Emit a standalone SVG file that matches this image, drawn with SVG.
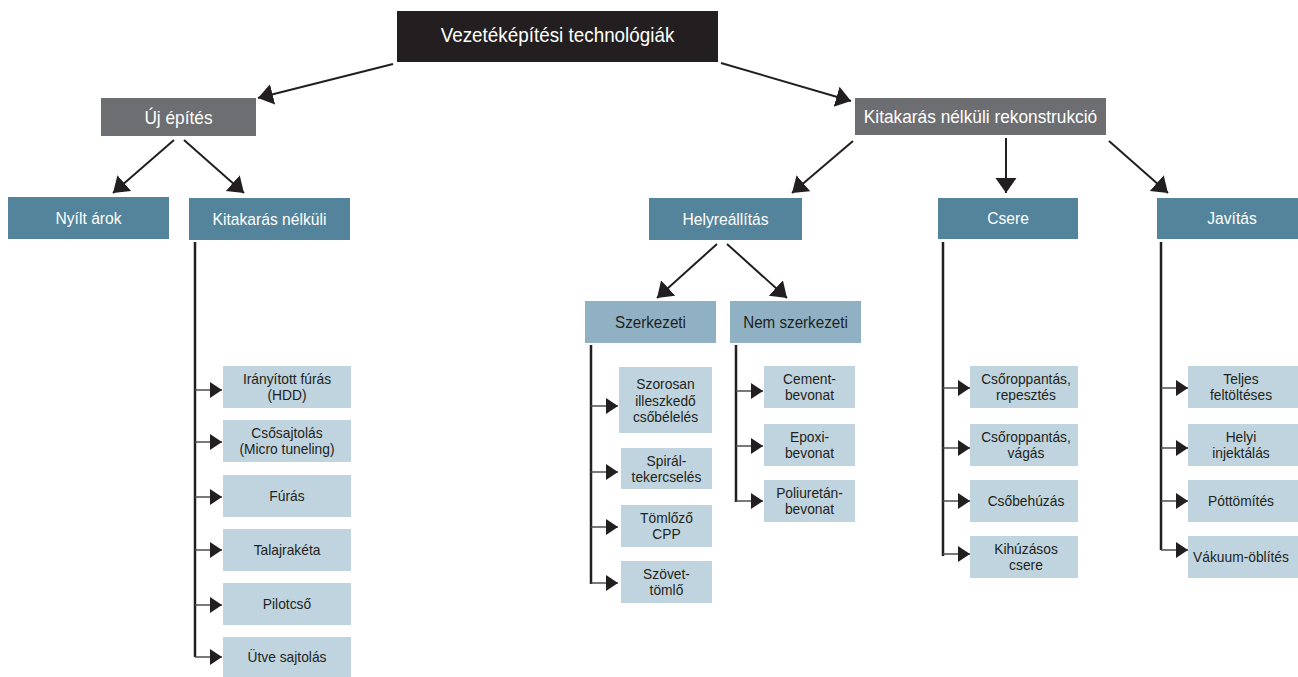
<svg xmlns="http://www.w3.org/2000/svg" width="1298" height="677" viewBox="0 0 1298 677">
<style>
text{font-family:"Liberation Sans",Arial,sans-serif;text-anchor:middle;transform-box:fill-box;transform-origin:center;transform:scaleX(0.92)}
.top{fill:#231f20}.gray{fill:#6d6e71}.teal{fill:#53849b}.hdr{fill:#8fb1c3}.leaf{fill:#bfd4de}
.tt{fill:#fff;font-size:20.5px}.tg{fill:#fff;font-size:18.8px}.tw{fill:#fff;font-size:17px}.td{fill:#231f20;font-size:16.5px}.tl{fill:#231f20;font-size:15px}
.arr{stroke:#231f20;stroke-width:2;fill:none;marker-end:url(#big)}
.vl{stroke:#231f20;stroke-width:2.5;fill:none}
.tk{stroke:#4d4d4f;stroke-width:1.5;fill:none;marker-end:url(#sm)}
</style>
<defs>
<marker id="big" markerUnits="userSpaceOnUse" markerWidth="16" markerHeight="22" refX="15" refY="10.5" orient="auto"><path d="M0,0 L15,10.5 L0,21 z" fill="#231f20"/></marker>
<marker id="sm" markerUnits="userSpaceOnUse" markerWidth="13" markerHeight="17" refX="12" refY="8" orient="auto"><path d="M0,0 L12,8 L0,16 z" fill="#231f20"/></marker>
</defs>
<rect width="1298" height="677" fill="#fff"/>
<g id="connectors">
<path class="arr" d="M393,64 L258,98"/>
<path class="arr" d="M721,63 L851,101"/>
<path class="arr" d="M174,140 L113,193"/>
<path class="arr" d="M184,140 L244,193"/>
<path class="arr" d="M853,141 L792,193"/>
<path class="arr" d="M1006,138 L1006,193"/>
<path class="arr" d="M1109,141 L1168,193"/>
<path class="arr" d="M717,244 L657,298"/>
<path class="arr" d="M727,244 L787,298"/>
<path class="vl" d="M195,242 V657"/>
<path class="tk" d="M195,390 H222"/><path class="tk" d="M195,442 H222"/><path class="tk" d="M195,497 H222"/><path class="tk" d="M195,550 H222"/><path class="tk" d="M195,605 H222"/><path class="tk" d="M195,657 H222"/>
<path class="vl" d="M591,345 V584"/>
<path class="tk" d="M591,406 H618"/><path class="tk" d="M591,472 H618"/><path class="tk" d="M591,527 H618"/><path class="tk" d="M591,583 H618"/>
<path class="vl" d="M736,345 V502"/>
<path class="tk" d="M736,391 H763"/><path class="tk" d="M736,446 H763"/><path class="tk" d="M736,501 H763"/>
<path class="vl" d="M943,242 V556"/>
<path class="tk" d="M943,388 H970"/><path class="tk" d="M943,448 H970"/><path class="tk" d="M943,501 H970"/><path class="tk" d="M943,554 H970"/>
<path class="vl" d="M1161,242 V550"/>
<path class="tk" d="M1161,388 H1188"/><path class="tk" d="M1161,448 H1188"/><path class="tk" d="M1161,501 H1188"/><path class="tk" d="M1161,550 H1188"/>
</g>
<g id="n-root"><rect class="top" x="397" y="11" width="321" height="51"/><text class="tt" x="557.5" y="42.5">Vezetéképítési technológiák</text></g>
<g id="n-uj"><rect class="gray" x="101" y="98" width="155" height="38"/><text class="tg" x="178.5" y="124">Új építés</text></g>
<g id="n-rekon"><rect class="gray" x="855" y="98" width="251" height="37"/><text class="tg" x="980.5" y="123">Kitakarás nélküli rekonstrukció</text></g>
<g id="n-nyilt"><rect class="teal" x="8" y="197" width="161" height="42"/><text class="tw" x="88.5" y="224">Nyílt árok</text></g>
<g id="n-kitak"><rect class="teal" x="189" y="198" width="161" height="42"/><text class="tw" x="269.5" y="225">Kitakarás nélküli</text></g>
<g id="n-helyre"><rect class="teal" x="649" y="198" width="153" height="42"/><text class="tw" x="725.5" y="225">Helyreállítás</text></g>
<g id="n-csere"><rect class="teal" x="938" y="198" width="140" height="41"/><text class="tw" x="1008" y="224.5">Csere</text></g>
<g id="n-javitas"><rect class="teal" x="1157" y="198" width="151" height="41"/><text class="tw" x="1232" y="224.5">Javítás</text></g>
<g id="n-szerk"><rect class="hdr" x="585" y="301" width="131" height="42"/><text class="td" x="650.5" y="328">Szerkezeti</text></g>
<g id="n-nemszerk"><rect class="hdr" x="730" y="301" width="131" height="42"/><text class="td" x="795.5" y="328">Nem szerkezeti</text></g>
<g id="n-hdd"><rect class="leaf" x="223" y="366" width="128" height="42"/><text class="tl" x="287" y="384.5">Irányított fúrás</text><text class="tl" x="287" y="400.5">(HDD)</text></g>
<g id="n-csos"><rect class="leaf" x="223" y="420" width="128" height="42"/><text class="tl" x="287" y="438.5">Csősajtolás</text><text class="tl" x="287" y="454.5">(Micro tuneling)</text></g>
<g id="n-furas"><rect class="leaf" x="223" y="475" width="128" height="42"/><text class="tl" x="287" y="501.5">Fúrás</text></g>
<g id="n-talaj"><rect class="leaf" x="223" y="529" width="128" height="42"/><text class="tl" x="287" y="555.5">Talajrakéta</text></g>
<g id="n-pilot"><rect class="leaf" x="223" y="583" width="128" height="42"/><text class="tl" x="287" y="609.5">Pilotcső</text></g>
<g id="n-utve"><rect class="leaf" x="223" y="637" width="128" height="40"/><text class="tl" x="287" y="662.5">Ütve sajtolás</text></g>
<g id="n-szoros"><rect class="leaf" x="619" y="367" width="93" height="66"/><text class="tl" x="665.5" y="389.5">Szorosan</text><text class="tl" x="665.5" y="406">illeszkedő</text><text class="tl" x="665.5" y="422.5">csőbélelés</text></g>
<g id="n-spiral"><rect class="leaf" x="621" y="448" width="91" height="41"/><text class="tl" x="666.5" y="466">Spirál-</text><text class="tl" x="666.5" y="482">tekercselés</text></g>
<g id="n-toml"><rect class="leaf" x="621" y="505" width="91" height="42"/><text class="tl" x="666.5" y="523.5">Tömlőző</text><text class="tl" x="666.5" y="539.5">CPP</text></g>
<g id="n-szovet"><rect class="leaf" x="621" y="561" width="91" height="42"/><text class="tl" x="666.5" y="579.5">Szövet-</text><text class="tl" x="666.5" y="595.5">tömlő</text></g>
<g id="n-cement"><rect class="leaf" x="764" y="366" width="91" height="42"/><text class="tl" x="809.5" y="384.5">Cement-</text><text class="tl" x="809.5" y="400.5">bevonat</text></g>
<g id="n-epoxi"><rect class="leaf" x="764" y="424" width="91" height="42"/><text class="tl" x="809.5" y="442.5">Epoxi-</text><text class="tl" x="809.5" y="458.5">bevonat</text></g>
<g id="n-poli"><rect class="leaf" x="764" y="480" width="91" height="42"/><text class="tl" x="809.5" y="498.5">Poliuretán-</text><text class="tl" x="809.5" y="514.5">bevonat</text></g>
<g id="n-rep"><rect class="leaf" x="970" y="366" width="108" height="42"/><text class="tl" x="1026" y="384.5">Csőroppantás,</text><text class="tl" x="1026" y="400.5">repesztés</text></g>
<g id="n-vagas"><rect class="leaf" x="970" y="424" width="108" height="42"/><text class="tl" x="1026" y="442.5">Csőroppantás,</text><text class="tl" x="1026" y="458.5">vágás</text></g>
<g id="n-behuz"><rect class="leaf" x="970" y="480" width="108" height="42"/><text class="tl" x="1026" y="506.5">Csőbehúzás</text></g>
<g id="n-kihuz"><rect class="leaf" x="970" y="536" width="108" height="42"/><text class="tl" x="1026" y="554.5">Kihúzásos</text><text class="tl" x="1026" y="570.5">csere</text></g>
<g id="n-teljes"><rect class="leaf" x="1188" y="366" width="110" height="42"/><text class="tl" x="1241" y="384.5">Teljes</text><text class="tl" x="1241" y="400.5">feltöltéses</text></g>
<g id="n-helyi"><rect class="leaf" x="1188" y="424" width="110" height="42"/><text class="tl" x="1241" y="442.5">Helyi</text><text class="tl" x="1241" y="458.5">injektálás</text></g>
<g id="n-pott"><rect class="leaf" x="1188" y="480" width="110" height="42"/><text class="tl" x="1241" y="506.5">Póttömítés</text></g>
<g id="n-vakuum"><rect class="leaf" x="1188" y="536" width="110" height="42"/><text class="tl" x="1241" y="562.5">Vákuum-öblítés</text></g>
</svg>
